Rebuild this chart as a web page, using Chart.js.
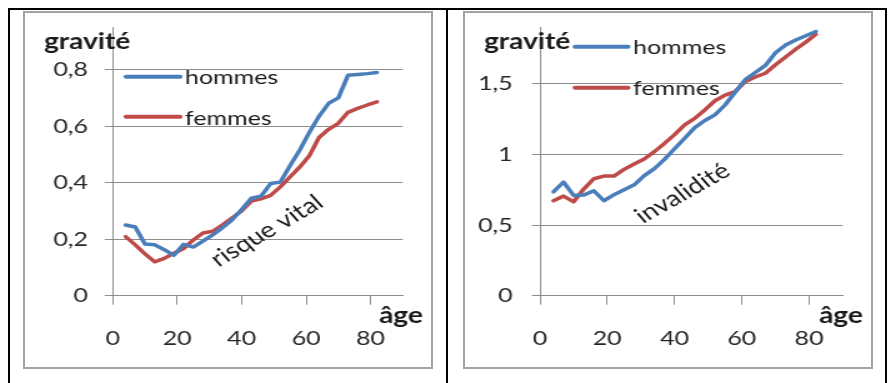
<!DOCTYPE html>
<html>
<head>
<meta charset="utf-8">
<script src="https://cdn.jsdelivr.net/npm/chart.js@4.4.1/dist/chart.umd.min.js"></script>
<style>
  body { margin: 0; background: #fff; width: 890px; height: 383px; overflow: hidden; position: relative; }
  .rule { position: absolute; background: #000; }
  .panel { position: absolute; top: 11px; width: 410px; height: 358px; border: 2px solid #a3a3a3; box-sizing: border-box; }
</style>
</head>
<body>
<div class="rule" style="left:8px;top:8px;width:879px;height:2px"></div>
<div class="rule" style="left:8px;top:8px;width:2px;height:375px"></div>
<div class="rule" style="left:446px;top:8px;width:2px;height:375px"></div>
<div class="rule" style="left:885px;top:8px;width:2px;height:375px"></div>

<div class="panel" style="left:23px">
  <canvas id="risque" width="325" height="354" style="width:406px;height:354px;display:block"></canvas>
</div>
<div class="panel" style="left:463px">
  <canvas id="invalidite" width="325" height="354" style="width:406px;height:354px;display:block"></canvas>
</div>

<script>
// ages (x) shared by both charts
const ages = [4, 7, 10, 13, 16, 19, 22, 25, 28, 31, 34, 37, 40, 43, 46, 49, 52, 55, 58, 61, 64, 67, 70, 73, 76, 79, 82];

const risqueHommes = [0.25, 0.243, 0.183, 0.18, 0.163, 0.143, 0.182, 0.172, 0.193, 0.215, 0.24, 0.268, 0.305, 0.345, 0.352,
  0.397, 0.402, 0.46, 0.515, 0.578, 0.635, 0.681, 0.7, 0.78, 0.783, 0.786, 0.79];
const risqueFemmes = [0.209, 0.18, 0.148, 0.12, 0.132, 0.15, 0.167, 0.197, 0.222, 0.228, 0.25, 0.275, 0.3, 0.335, 0.343,
  0.355, 0.385, 0.42, 0.455, 0.495, 0.56, 0.589, 0.61, 0.649, 0.663, 0.675, 0.686];

const invalHommes = [0.735, 0.805, 0.71, 0.712, 0.743, 0.672, 0.715, 0.75, 0.785, 0.85, 0.9, 0.965, 1.04, 1.115, 1.19,
  1.24, 1.28, 1.35, 1.44, 1.53, 1.58, 1.63, 1.72, 1.775, 1.81, 1.84, 1.87];
const invalFemmes = [0.672, 0.705, 0.665, 0.755, 0.828, 0.847, 0.847, 0.894, 0.932, 0.968, 1.02, 1.078, 1.14, 1.21, 1.255,
  1.315, 1.38, 1.42, 1.445, 1.515, 1.548, 1.575, 1.635, 1.69, 1.745, 1.795, 1.85];

const seriesNames = ["hommes", "femmes"];
const seriesColors = ["#4a7ebb", "#be4b48"];

const ageTicks = [0, 20, 40, 60, 80];
const risqueTicks = [0, 0.2, 0.4, 0.6, 0.8];
const invalTicks = [0, 0.5, 1, 1.5];

Chart.defaults.font.family = "Lato";
Chart.defaults.color = "#262626";

const axisGray = "#8c8c8c";

// axis titles, legend and caption drawn on top
const notes = {
  id: "notes",
  afterDraw(chart, args, o) {
    const ctx = chart.ctx;
    ctx.save();
    ctx.fillStyle = "#1a1a1a";
    ctx.textBaseline = "alphabetic";
    ctx.font = "bold 22.5px Lato";
    ctx.fillText("gravité", o.yTitle[0], o.yTitle[1]);
    ctx.fillText("âge", o.xTitle[0], o.xTitle[1]);

    ctx.font = "20px Lato";
    chart.data.datasets.forEach((ds, i) => {
      const ly = o.legend.lineY[i];
      ctx.strokeStyle = ds.borderColor;
      ctx.lineWidth = 4;
      ctx.lineCap = "round";
      ctx.beginPath();
      ctx.moveTo(o.legend.x0, ly);
      ctx.lineTo(o.legend.x1, ly);
      ctx.stroke();
      ctx.fillText(ds.label, o.legend.tx, o.legend.textY[i]);
    });

    ctx.translate(o.caption.x, o.caption.y);
    ctx.rotate(-o.caption.angle * Math.PI / 180);
    ctx.font = "22px Lato";
    ctx.fillText(o.caption.text, 0, 0);
    ctx.restore();
  }
};

const makeChart = (canvasId, hommes, femmes, yMax, yTicks, yAxisWidth, yPad, noteOpts) => {
  const ctx = document.getElementById(canvasId).getContext("2d");
  const values = [hommes, femmes];
  const config = {
    type: "line",
    data: {
      datasets: seriesNames.map((name, i) => ({
        label: name,
        data: ages.map((a, k) => ({ x: a, y: values[i][k] })),
        borderColor: seriesColors[i],
        borderWidth: 3.5,
        borderCapStyle: "round",
        borderJoinStyle: "round",
        pointRadius: 0,
        tension: 0,
        fill: false,
      })),
    },
    options: {
      responsive: false,
      animation: false,
      devicePixelRatio: 1,
      events: [],
      layout: { padding: { top: 14.3, right: 22.6, left: 0, bottom: 0 } },
      scales: {
        x: {
          type: "linear",
          min: 0,
          max: 90,
          afterBuildTicks: (axis) => { axis.ticks = ageTicks.map((v) => ({ value: v })); },
          afterFit: (axis) => { axis.height = 71.3; },
          grid: { drawOnChartArea: false, drawTicks: true, tickLength: 9, color: axisGray, lineWidth: 1 },
          border: { color: axisGray, width: 1 },
          ticks: { font: { size: 20 }, padding: 22.3, maxRotation: 0, autoSkip: false },
        },
        y: {
          type: "linear",
          min: 0,
          max: yMax,
          afterBuildTicks: (axis) => { axis.ticks = yTicks.map((v) => ({ value: v })); },
          afterFit: (axis) => {
            axis.width = yAxisWidth;
            axis.paddingTop = 0;
            axis.paddingBottom = 0;
          },
          grid: { color: axisGray, lineWidth: 1, tickLength: 6.4 },
          border: { color: axisGray, width: 1 },
          ticks: {
            font: { size: 20 },
            padding: yPad,
            callback: (v) => String(v).replace(".", ","),
          },
        },
      },
      plugins: {
        legend: { display: false },
        tooltip: { enabled: false },
        notes: noteOpts,
      },
    },
    plugins: [notes],
  };
  return new Chart(ctx, config);
};

makeChart("risque", risqueHommes, risqueFemmes, 0.95, risqueTicks, 70.2, 13.4, {
  yTitle: [15.2, 36],
  xTitle: [283.4, 309.7],
  legend: { x0: 80.9, x1: 124.1, tx: 128.1, lineY: [63.7, 103.7], textY: [71.3, 112] },
  caption: { text: "risque vital", x: 155, y: 254.5, angle: 36 },
});

makeChart("invalidite", invalHommes, invalFemmes, 1.9, invalTicks, 60, 15.4, {
  yTitle: [15.2, 36],
  xTitle: [283.4, 309.7],
  legend: { x0: 88.1, x1: 130.5, tx: 134.5, lineY: [33.7, 74.7], textY: [41, 82] },
  caption: { text: "invalidité", x: 142.5, y: 211, angle: 35 },
});
</script>
</body>
</html>
